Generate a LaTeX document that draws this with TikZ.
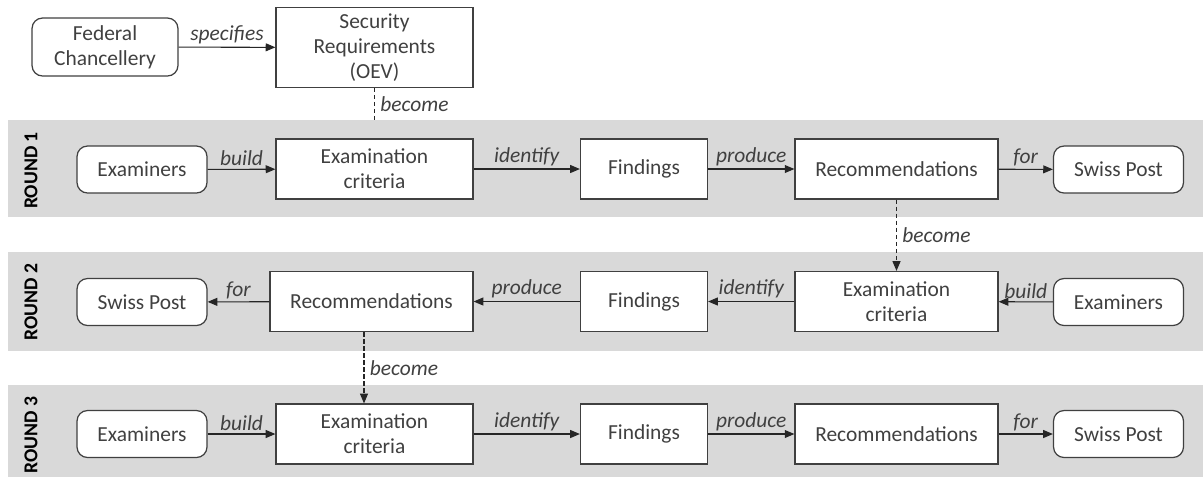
\documentclass[tikz,border=0pt]{standalone}
\usepackage{fontspec}
\setmainfont{Carlito}
\usetikzlibrary{arrows.meta, positioning}
\definecolor{bandgray}{RGB}{217,217,217}
\definecolor{inkgray}{RGB}{64,64,64}

\begin{document}
\begin{tikzpicture}[x=0.02cm, y=-0.02cm,
    every node/.style={font=\fontsize{12.2}{14.2}\selectfont, text=inkgray},
    box/.style={draw=inkgray, fill=white, line width=0.7pt, align=center, minimum height=1.2cm},
    soft/.style={box, rounded corners=6pt, minimum height=0.94cm, minimum width=2.6cm},
    flow/.style={draw=black!85, line width=0.6pt, -{Triangle[length=5.5pt,width=4.5pt]}},
    becomes/.style={flow, dash pattern=on 2.5pt off 1.5pt},
    verb/.style={font=\fontsize{12.2}{14.2}\selectfont\itshape, above, inner sep=1.5pt},
    aside/.style={font=\fontsize{12.2}{14.2}\selectfont\itshape, right, inner sep=3pt},
    roundlbl/.style={font=\fontsize{11.2}{13}\selectfont\bfseries, text=black, rotate=90},
    band/.style={fill=bandgray}]
    \useasboundingbox (0,0) rectangle (1203,478);

    % Round bands
    \fill[band] (8,120) rectangle (1203,217);
    \fill[band] (8,252) rectangle (1203,351);
    \fill[band] (8,385) rectangle (1203,477);
    \node[roundlbl] (r1) at (31,170.5) {ROUND 1};
    \node[roundlbl] (r2) at (31,302) {ROUND 2};
    \node[roundlbl] (r3) at (31,435) {ROUND 3};

    % Top: who sets the requirements
    \node[box, rounded corners=6pt, minimum width=2.92cm, minimum height=1.16cm] (fed) at (105,47) {Federal\\Chancellery};
    \node[box, minimum width=3.94cm, minimum height=1.58cm] (sec) at (374.5,47.5) {Security\\Requirements\\(OEV)};
    \draw[flow] (fed) -- node[verb] {specifies} (sec);
    \coordinate (enter1) at (374.5,120);
    \draw[draw=black!85, line width=0.6pt, dash pattern=on 2.5pt off 1.5pt] (sec.south) -- node[aside] {become} (enter1);

    % Round 1
    \node[soft] (exam1) at (142,169.5) {Examiners};
    \node[box, minimum width=3.94cm] (crit1) at (374.5,169) {Examination\\criteria};
    \node[box, minimum width=2.54cm] (find1) at (644,169) {Findings};
    \node[box, minimum width=4.06cm] (rec1) at (896.5,169) {Recommendations};
    \node[soft] (post1) at (1118.5,169.5) {Swiss Post};
    \draw[flow] (exam1) -- node[verb] {build} (crit1);
    \draw[flow] (crit1) -- node[verb] {identify} (find1);
    \draw[flow] (find1) -- node[verb] {produce} (rec1);
    \draw[flow] (rec1) -- node[verb] {for} (post1);

    % Round 2
    \node[soft] (post2) at (142,302) {Swiss Post};
    \node[box, minimum width=4.06cm] (rec2) at (371.5,301.5) {Recommendations};
    \node[box, minimum width=2.54cm] (find2) at (644,301.5) {Findings};
    \node[box, minimum width=4.06cm] (crit2) at (896.5,301.5) {Examination\\criteria};
    \node[soft] (exam2) at (1118.5,302) {Examiners};
    \draw[flow] (exam2) -- node[verb] {build} (crit2);
    \draw[flow] (crit2) -- node[verb] {identify} (find2);
    \draw[flow] (find2) -- node[verb] {produce} (rec2);
    \draw[flow] (rec2) -- node[verb] {for} (post2);
    \draw[becomes] (rec1) -- node[aside] {become} (crit2);

    % Round 3
    \node[soft] (exam3) at (142,434) {Examiners};
    \node[box, minimum width=3.94cm] (crit3) at (374.5,434) {Examination\\criteria};
    \node[box, minimum width=2.54cm] (find3) at (644,434) {Findings};
    \node[box, minimum width=4.06cm] (rec3) at (896.5,434) {Recommendations};
    \node[soft] (post3) at (1118.5,434) {Swiss Post};
    \draw[flow] (exam3) -- node[verb] {build} (crit3);
    \draw[flow] (crit3) -- node[verb] {identify} (find3);
    \draw[flow] (find3) -- node[verb] {produce} (rec3);
    \draw[flow] (rec3) -- node[verb] {for} (post3);
    \coordinate (leave2) at ([xshift=-0.15cm]rec2.south);
    \draw[becomes] (leave2) -- node[aside] {become} (leave2 |- crit3.north);
\end{tikzpicture}
\end{document}
